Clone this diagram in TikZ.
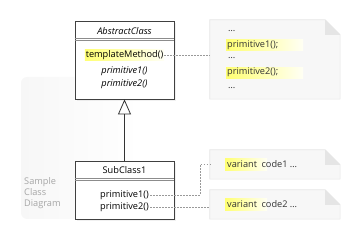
\documentclass[tikz,border=0pt]{standalone}
\usepackage{fontspec}
\setmainfont{Open Sans}
\usetikzlibrary{arrows.meta, positioning, calc, shadows, backgrounds, fadings}

\begin{document}
\begin{tikzpicture}[
        x=1pt, y=-1pt,
        font=\fontsize{9.2}{11}\selectfont,
        cls/.style={
            rectangle, draw=black!75, line width=0.8pt, fill=white,
            minimum width=99pt, inner sep=0pt,
            drop shadow={opacity=0.12, shadow xshift=2pt, shadow yshift=-2pt}
        },
        sep/.style={draw=black!45, line width=0.6pt},
        meth/.style={inner sep=1pt, text=black},
        hl/.style={left color=yellow!55, right color=yellow!4},
        notebox/.style={draw=black!10, fill=black!3, line width=0.6pt},
        notefold/.style={fill=black!10},
        notetxt/.style={inner sep=1pt, text=black!80, anchor=base west},
        link/.style={draw=black!40, line width=0.5pt, dash pattern=on 1.5pt off 1.5pt},
        gen/.style={-{Triangle[open, length=15pt, width=13pt]}, draw=black!80, line width=0.8pt},
        lbl/.style={text=black!35, align=left, inner sep=0pt}
    ]
    \useasboundingbox (0,0) rectangle (360,240);

    % === Frame ===
    \fill[black!3, path fading=east, rounded corners=6pt] (21,77) rectangle (140,219);
    \node[lbl, anchor=north west] (lbl) at (24,177) {Sample\\Class\\Diagram};

    % === Notes ===
    \node[minimum width=130pt, minimum height=79pt, inner sep=0pt] (n1) at (275,59.5) {};
    \node[minimum width=130pt, minimum height=29pt, inner sep=0pt] (n2) at (275,164.5) {};
    \node[minimum width=130pt, minimum height=29pt, inner sep=0pt] (n3) at (275,204.5) {};
    \foreach \n in {n1,n2,n3} {
        \draw[notebox] (\n.north west) -- ([xshift=-15pt]\n.north east) -- ([yshift=-15pt]\n.north east)
            -- (\n.south east) -- (\n.south west) -- cycle;
        \fill[notefold] ([xshift=-15pt]\n.north east) -- ([yshift=-15pt]\n.north east)
            -- ([xshift=-15pt, yshift=-15pt]\n.north east) -- cycle;
    }
    \node[notetxt] (n1a) at (227,32) {\dots};
    \node[notetxt, hl, text width=75pt] (n1b) at (226,47.5) {primitive1();};
    \node[notetxt] (n1c) at (227,59) {\dots};
    \node[notetxt, hl, text width=75pt] (n1d) at (226,75) {primitive2();};
    \node[notetxt] (n1e) at (227,89) {\dots};

    \node[hl, minimum width=42pt, minimum height=12pt, inner sep=0pt, anchor=west] (n2h) at (225,164.5) {};
    \node[notetxt, anchor=west] (n2t) at (226,164.5) {variant\enspace code1 \dots};
    \node[hl, minimum width=42pt, minimum height=12pt, inner sep=0pt, anchor=west] (n3h) at (225,204.5) {};
    \node[notetxt, anchor=west] (n3t) at (226,204.5) {variant\enspace code2 \dots};

    % === AbstractClass ===
    \node[cls, minimum height=78pt] (abs) at (124.5,60) {};
    \node[meth] (absT) at (124.5,31) {\textit{AbstractClass}};
    \draw[sep] ($(abs.north west)+(0,17.5)$) -- ($(abs.north east)+(0,17.5)$);
    \draw[sep] ($(abs.north west)+(0,19.5)$) -- ($(abs.north east)+(0,19.5)$);
    \node[meth, hl] (absM) at (124.5,55) {templateMethod()};
    \node[meth] (absP1) at (124.5,71) {\textit{primitive1()}};
    \node[meth] (absP2) at (124.5,84) {\textit{primitive2()}};

    % === SubClass1 ===
    \node[cls, minimum height=58pt] (sub) at (124.5,190) {};
    \node[meth] (subT) at (124.5,170) {SubClass1};
    \draw[sep] ($(sub.north west)+(0,18)$) -- ($(sub.north east)+(0,18)$);
    \draw[sep] ($(sub.north west)+(0,20)$) -- ($(sub.north east)+(0,20)$);
    \node[meth] (subP1) at (124.5,195) {primitive1()};
    \node[meth] (subP2) at (124.5,207) {primitive2()};

    % === Generalization ===
    \draw[gen] (sub.north) -- (abs.south);

    % === Note links ===
    \draw[link] (absM.east) -- (absM.east -| n1.west);
    \draw[link] (subP1.east) -| ([xshift=-10pt]n2.west) -- (n2.west);
    \draw[link] (subP2.east) -- (subP2.east -| n3.west);
\end{tikzpicture}
\end{document}
